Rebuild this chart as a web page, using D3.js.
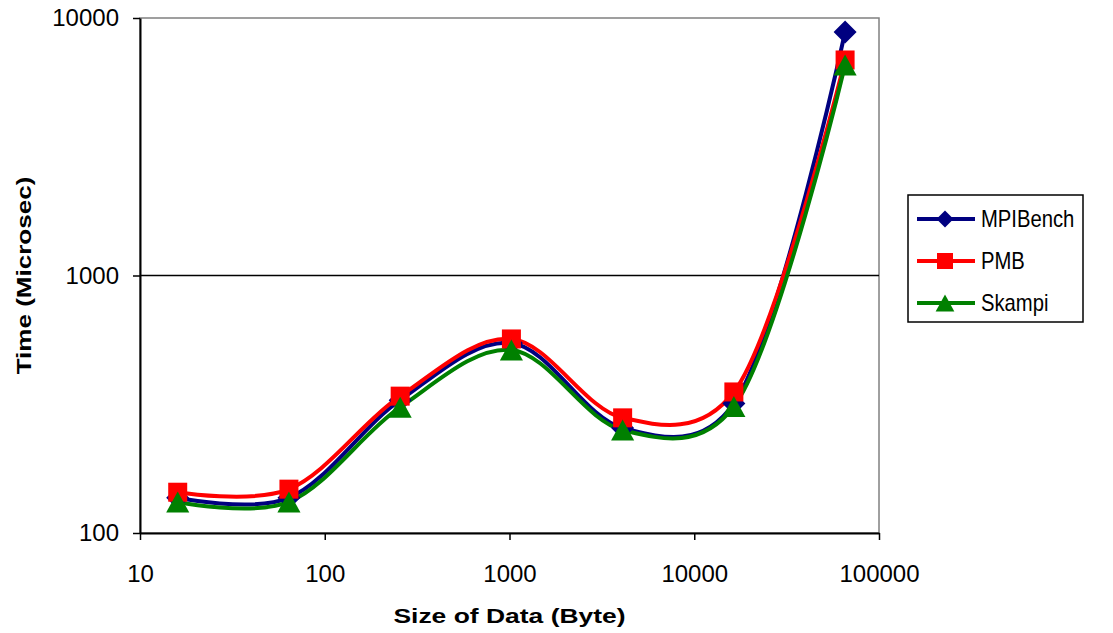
<!DOCTYPE html>
<html>
<head>
<meta charset="utf-8">
<script src="https://cdn.jsdelivr.net/npm/d3@7"></script>
<style>
body { margin: 0; background: #fff; }
text { font-family: Arial, "Liberation Sans", sans-serif; }
</style>
</head>
<body>
<script>
var sizes = [16, 64, 256, 1024, 4096, 16384, 65536];
var mpiBench = [137, 137, 328, 547, 256, 318, 8820];
var pmb = [144, 148, 340, 567, 280, 353, 6870];
var skampi = [132, 132, 308, 514, 251, 310, 6570];
var seriesNames = ["MPIBench", "PMB", "Skampi"];
var seriesColors = ["#000080", "#ff0000", "#008000"];
var xTicks = [10, 100, 1000, 10000, 100000];
var yTicks = [100, 1000, 10000];

var width = 1113, height = 633;
var plot = { left: 140, right: 879, top: 18, bottom: 533 };

var svg = d3.select("body").append("svg")
    .attr("width", width)
    .attr("height", height);

var x = d3.scaleLog().domain([10, 100000]).range([plot.left, plot.right]);
var y = d3.scaleLog().domain([100, 10000]).range([plot.bottom, plot.top]);

// grey frame on top/right
svg.append("rect")
    .attr("x", plot.left).attr("y", plot.top)
    .attr("width", plot.right - plot.left).attr("height", plot.bottom - plot.top)
    .attr("fill", "none").attr("stroke", "#808080").attr("stroke-width", 1.5);

// gridline at 1000
svg.append("line")
    .attr("x1", plot.left).attr("x2", plot.right)
    .attr("y1", y(1000)).attr("y2", y(1000))
    .attr("stroke", "#000").attr("stroke-width", 1.5);

var xAxis = svg.append("g")
    .attr("transform", "translate(0," + plot.bottom + ")")
    .call(d3.axisBottom(x).tickValues(xTicks).tickFormat(d3.format("d")).tickSize(7).tickSizeOuter(0));
xAxis.select(".domain").attr("stroke", "#000").attr("stroke-width", 2);
xAxis.selectAll(".tick line").attr("stroke-width", 1.5);
xAxis.selectAll(".tick text").attr("font-size", 24).attr("dy", "0").attr("y", 49);

var yAxis = svg.append("g")
    .attr("transform", "translate(" + plot.left + ",0)")
    .call(d3.axisLeft(y).tickValues(yTicks).tickFormat(d3.format("d")).tickSize(7).tickSizeOuter(0));
yAxis.select(".domain").attr("stroke", "#000").attr("stroke-width", 2);
yAxis.selectAll(".tick line").attr("stroke-width", 1.5);
yAxis.selectAll(".tick text").attr("font-size", 24).attr("x", -21);

// axis titles (stretched wide like the original)
svg.append("text")
    .attr("transform", "translate(" + ((plot.left + plot.right) / 2) + ",623) scale(1.26,1)")
    .attr("text-anchor", "middle").attr("font-size", 21).attr("font-weight", "bold")
    .text("Size of Data (Byte)");

svg.append("text")
    .attr("transform", "translate(31," + ((plot.top + plot.bottom) / 2) + ") rotate(-90) scale(1.24,1)")
    .attr("text-anchor", "middle").attr("font-size", 21).attr("font-weight", "bold")
    .text("Time (Microsec)");

var allSeries = [mpiBench, pmb, skampi];

var line = d3.line()
    .x(function(d) { return x(d[0]); })
    .y(function(d) { return y(d[1]); })
    .curve(d3.curveCatmullRom.alpha(0.2));

allSeries.forEach(function(vals, i) {
    var pts = sizes.map(function(s, j) { return [s, vals[j]]; });
    svg.append("path")
        .datum(pts)
        .attr("d", line)
        .attr("fill", "none")
        .attr("stroke", seriesColors[i])
        .attr("stroke-width", 4);
});

// marker: diamond = rotated square, square, triangle
function marker(g, i, cx, cy, s) {
    if (i == 0) {
        g.append("path")
            .attr("d", d3.symbol().type(d3.symbolSquare).size(s * s / 2))
            .attr("transform", "translate(" + cx + "," + cy + ") rotate(45)")
            .attr("fill", seriesColors[i]);
    } else if (i == 1) {
        g.append("rect")
            .attr("x", cx - s / 2).attr("y", cy - s / 2)
            .attr("width", s).attr("height", s)
            .attr("fill", seriesColors[i]);
    } else {
        var h = s;
        g.append("path")
            .attr("d", "M" + cx + "," + (cy - h / 2) + "L" + (cx + s * 0.55) + "," + (cy + h / 2) + "L" + (cx - s * 0.55) + "," + (cy + h / 2) + "Z")
            .attr("fill", seriesColors[i]);
    }
}

var markerSizes = [23, 19, 21];
allSeries.forEach(function(vals, i) {
    var g = svg.append("g");
    sizes.forEach(function(s, j) {
        marker(g, i, x(s), y(vals[j]), markerSizes[i]);
    });
});

// legend
var legend = svg.append("g");
legend.append("rect")
    .attr("x", 908).attr("y", 195).attr("width", 175).attr("height", 127)
    .attr("fill", "#fff").attr("stroke", "#000").attr("stroke-width", 1.5);

var legendSizes = [17, 16, 17];
seriesNames.forEach(function(name, i) {
    var ly = 219 + i * 42;
    legend.append("line")
        .attr("x1", 917).attr("x2", 975).attr("y1", ly).attr("y2", ly)
        .attr("stroke", seriesColors[i]).attr("stroke-width", 4);
    marker(legend, i, 945, ly, legendSizes[i]);
    legend.append("text")
        .attr("transform", "translate(981," + (ly + 8) + ") scale(0.88,1)")
        .attr("font-size", 23)
        .text(name);
});
</script>
</body>
</html>
